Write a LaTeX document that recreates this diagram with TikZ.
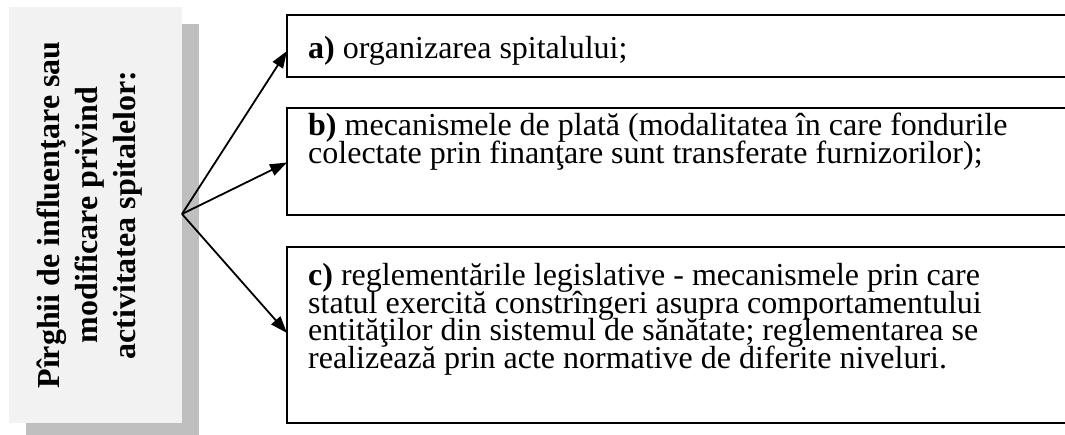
\documentclass[tikz,border=0pt]{standalone}
\usepackage{fontspec}
\setmainfont{Liberation Serif}
\usetikzlibrary{arrows.meta,shadows}
\definecolor{boxgray}{RGB}{242,242,242}
\definecolor{shadowgray}{RGB}{191,191,191}
% lines stacked at a fixed baseline distance; the box's baseline is that of its last line
\newcommand\stackedlines[1]{\vbox{\baselineskip=27.4pt\lineskiplimit=-100pt\relax #1}}
\begin{document}
\begin{tikzpicture}[x=1pt,y=-1pt,
  lever/.style={fill=boxgray, draw=none, minimum width=173pt, minimum height=416pt,
    inner sep=0pt, outer sep=0pt,
    general shadow={fill=shadowgray, shadow xshift=16.5pt, shadow yshift=-17pt}},
  levertext/.style={rotate=90, align=center, inner sep=0pt,
    font=\fontsize{32}{38}\selectfont\bfseries},
  itembox/.style={draw, line width=1.6pt, minimum width=800pt, anchor=north west,
    inner sep=0pt, outer sep=0pt},
  itemtext/.style={anchor=base west, inner sep=0pt,
    font=\fontsize{32}{27.4}\selectfont},
  link/.style={-{Triangle[length=17pt,width=12pt]}, line width=1.8pt}
]
\useasboundingbox (0,0) rectangle (1065,434);
\node[lever] (src) at (95.5,215) {};
\node[levertext] (srctext) at (90,215) {Pîrghii de influenţare sau\\modificare privind\\activitatea spitalelor:};

\node[itembox, minimum height=62pt] (ba) at (287,15) {};
\node[itembox, minimum height=107pt] (bb) at (287,108) {};
\node[itembox, minimum height=176pt] (bc) at (287,247) {};

\node[itemtext] (ta) at (308,58) {\textbf{a)} organizarea spitalului;};
\node[itemtext] (tb) at (308,163) {\stackedlines{%
  \hbox{\textbf{b)} mecanismele de plată (modalitatea în care fondurile}%
  \hbox{colectate prin finanţare sunt transferate furnizorilor);}}};
\node[itemtext] (tc) at (308,368) {\stackedlines{%
  \hbox{\textbf{c)} reglementările legislative - mecanismele prin care}%
  \hbox{statul exercită constrîngeri asupra comportamentului}%
  \hbox{entităţilor din sistemul de sănătate; reglementarea se}%
  \hbox{realizează prin acte normative de diferite niveluri.}}};

\coordinate (hub) at (182,214);
\draw[link] (hub) -- ([yshift=-5pt]ba.west);
\draw[link] (hub) -- ([yshift=-1pt]bb.west);
\draw[link] (hub) -- ([yshift=2pt]bc.west);
\end{tikzpicture}
\end{document}
